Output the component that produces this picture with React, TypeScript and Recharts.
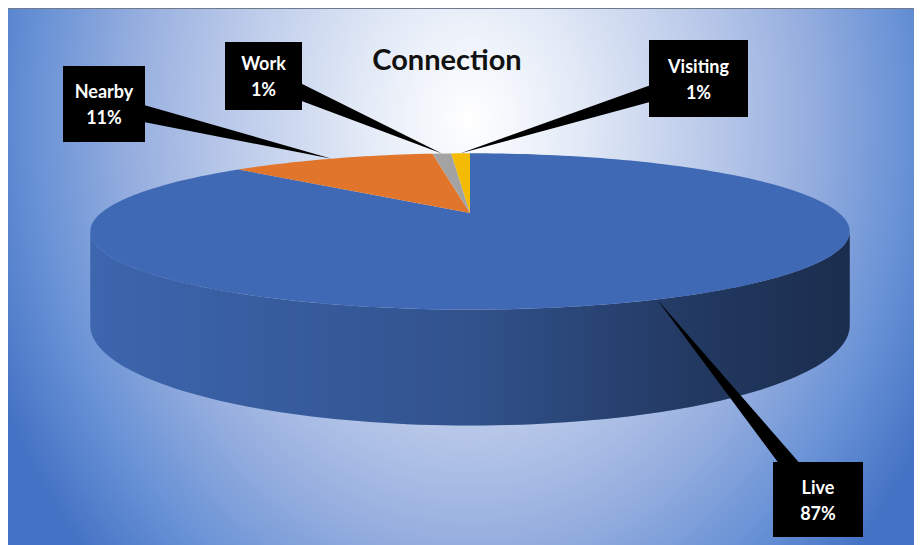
import React from "react";
import { PieChart, Pie, Cell } from "recharts";

const categories = ["Live", "Nearby", "Work", "Visiting"];
const shares = [87, 11, 1, 1];
const sliceColors = ["#3f69b4", "#e0752b", "#a3a3a3", "#f4bb04"];

// where each data label box sits in the chart (px)
const labelBoxes = [
    { x: 765, y: 453, w: 90, h: 75 },
    { x: 55, y: 57, w: 82, h: 76 },
    { x: 217, y: 33, w: 77, h: 68 },
    { x: 641, y: 31, w: 99, h: 77 },
];

const WIDTH = 914;
const HEIGHT = 537;
const TILT = 0.2; // how flat the disc looks
const PERSP = 0.236; // far edge shrinks, near edge grows
const DEPTH = 0.24; // thickness of the disc, as part of the radius
const RAD = Math.PI / 180;

function project(cx: number, cy: number, r: number, angle: number, drop = 0) {
    const X = Math.cos(angle * RAD);
    const Y = Math.sin(angle * RAD);
    const f = 1 / (1 + PERSP * Y);
    return [cx + r * X * f, cy - r * TILT * Y * f + drop * f];
}

function arcPoints(cx: number, cy: number, r: number, a0: number, a1: number, drop = 0) {
    const n = Math.max(2, Math.ceil(Math.abs(a1 - a0) / 1.5));
    const pts: number[][] = [];
    for (let i = 0; i <= n; i++) {
        pts.push(project(cx, cy, r, a0 + ((a1 - a0) * i) / n, drop));
    }
    return pts;
}

const toPath = (pts: number[][]) => pts.map((p) => `${p[0].toFixed(2)},${p[1].toFixed(2)}`).join(" L");

function DiscSlice(props: any) {
    const { cx, cy, outerRadius, startAngle, endAngle, fill, index } = props;
    const top = arcPoints(cx, cy, outerRadius, startAngle, endAngle);
    const topPath = `M${cx},${cy} L${toPath(top)} Z`;

    // side wall is only seen between the left and right silhouette points
    const lo = Math.min(startAngle, endAngle);
    const hi = Math.max(startAngle, endAngle);
    const edge = Math.asin(PERSP) / RAD;
    const f0 = 180 + edge;
    const f1 = 360 - edge;
    const walls: string[] = [];
    for (const k of [-360, 0, 360]) {
        const a = Math.max(lo, f0 + k);
        const b = Math.min(hi, f1 + k);
        if (b > a) {
            const upper = arcPoints(cx, cy, outerRadius, a, b);
            const lower = arcPoints(cx, cy, outerRadius, b, a, outerRadius * DEPTH);
            walls.push(`M${toPath([...upper, ...lower])} Z`);
        }
    }
    const gid = `wallShade${index}`;

    return (
        <g>
            <defs>
                <linearGradient
                    id={gid}
                    gradientUnits="userSpaceOnUse"
                    x1={cx - outerRadius * 1.03}
                    x2={cx + outerRadius * 1.03}
                    y1={0}
                    y2={0}
                >
                    <stop offset="0" stopColor="#000" stopOpacity={0.03} />
                    <stop offset="0.5" stopColor="#000" stopOpacity={0.22} />
                    <stop offset="0.78" stopColor="#000" stopOpacity={0.45} />
                    <stop offset="1" stopColor="#000" stopOpacity={0.57} />
                </linearGradient>
            </defs>
            {walls.map((d, i) => (
                <g key={i}>
                    <path d={d} fill={fill} />
                    <path d={d} fill={`url(#${gid})`} />
                </g>
            ))}
            <path d={topPath} fill={fill} />
        </g>
    );
}

function LeaderLabel(props: any) {
    const { cx, cy, outerRadius, midAngle, index, name, percent } = props;
    const box = labelBoxes[index];
    const [tx, ty] = project(cx, cy, outerRadius, midAngle);
    const bx = box.x + box.w / 2;
    const by = box.y + box.h / 2;
    const len = Math.hypot(tx - bx, ty - by);
    const nx = (-(ty - by) / len) * 10;
    const ny = ((tx - bx) / len) * 10;
    const textStyle = {
        fill: "#fff",
        fontFamily: "Lato, sans-serif",
        fontWeight: 700,
        fontSize: 18,
    };
    return (
        <g>
            <polygon points={`${bx + nx},${by + ny} ${bx - nx},${by - ny} ${tx},${ty}`} fill="#000" />
            <rect x={box.x} y={box.y} width={box.w} height={box.h} fill="#000" />
            <text x={bx} y={by - 13} textAnchor="middle" dominantBaseline="central" style={textStyle}>
                {name}
            </text>
            <text x={bx} y={by + 13} textAnchor="middle" dominantBaseline="central" style={textStyle}>
                {`${Math.round(percent * 100)}%`}
            </text>
        </g>
    );
}

export default function App() {
    const data = categories.map((name, i) => ({ name, value: shares[i] }));

    return (
        <div
            style={{
                position: "relative",
                width: WIDTH,
                height: HEIGHT,
                borderTop: "1px solid #6f7a8c",
                boxSizing: "border-box",
                background:
                    "radial-gradient(ellipse 520px 650px at 462px 110px, #ffffff 0%, #e4ebf7 20%, #bccbea 45%, #97afdf 65%, #6690d5 85%, #4472c4 100%)",
            }}
        >
            <div
                style={{
                    position: "absolute",
                    left: 0,
                    width: 878,
                    top: 35,
                    textAlign: "center",
                    fontFamily: "Lato, sans-serif",
                    fontWeight: 700,
                    fontSize: 29,
                    lineHeight: "29px",
                    color: "#111",
                }}
            >
                Connection
            </div>
            <PieChart width={WIDTH} height={HEIGHT - 1} margin={{ top: 0, right: 0, bottom: 0, left: 0 }}>
                <Pie
                    data={data}
                    dataKey="value"
                    nameKey="name"
                    cx={462}
                    cy={204}
                    outerRadius={369}
                    startAngle={90}
                    endAngle={-270}
                    stroke="none"
                    shape={DiscSlice}
                    label={LeaderLabel}
                    labelLine={false}
                    isAnimationActive={false}
                >
                    {data.map((d, i) => (
                        <Cell key={d.name} fill={sliceColors[i]} />
                    ))}
                </Pie>
            </PieChart>
        </div>
    );
}
